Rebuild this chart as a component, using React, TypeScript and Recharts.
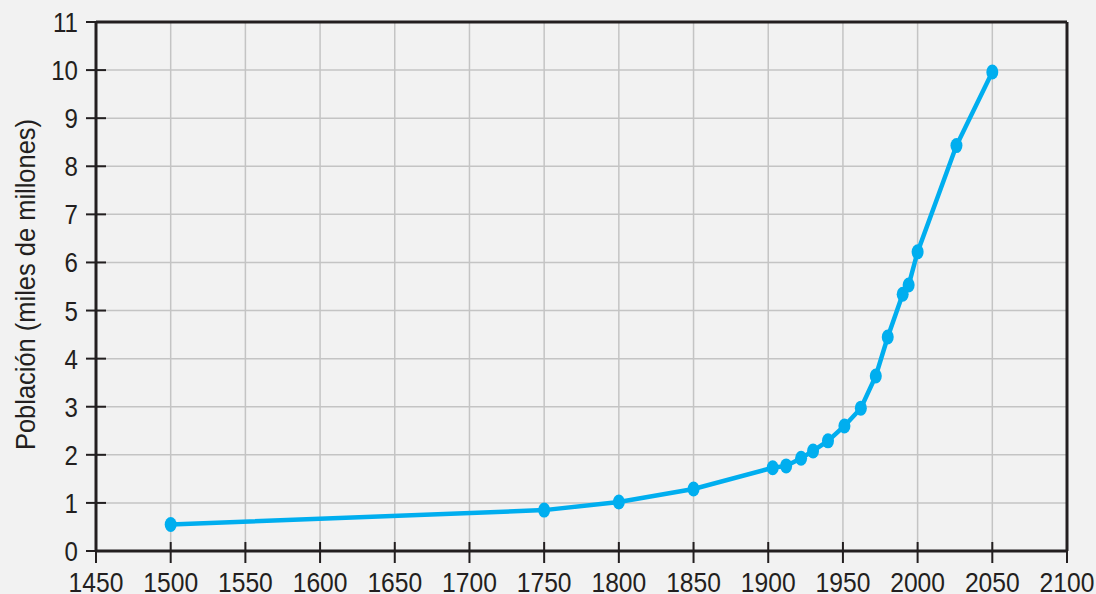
import React from 'react';
import { LineChart, Line, XAxis, YAxis, CartesianGrid, ReferenceLine } from 'recharts';

const years = [1500, 1750, 1800, 1850, 1903, 1912, 1922, 1930, 1940, 1951, 1962, 1972, 1980, 1990, 1994, 2000, 2026, 2050];
const population = [0.55, 0.85, 1.02, 1.29, 1.73, 1.77, 1.93, 2.08, 2.29, 2.6, 2.97, 3.64, 4.45, 5.34, 5.53, 6.22, 8.43, 9.96];
const xTicks = [1450, 1500, 1550, 1600, 1650, 1700, 1750, 1800, 1850, 1900, 1950, 2000, 2050, 2100];
const yTicks = [0, 1, 2, 3, 4, 5, 6, 7, 8, 9, 10, 11];
const yTitle = 'Población (miles de millones)';

const data = years.map((year, i) => ({ year, value: population[i] }));

const FONT = '"Liberation Sans", Arial, sans-serif';
const AXIS_X = 96;
const AXIS_Y = 551;
const BLUE = '#00aeef';
const INK = '#231f20';
// reference uses a condensed face, squeeze the regular one
const SQUEEZE = 0.86;

const YTick = (props: any) => {
  const { y, payload } = props;
  return (
    <g>
      <line x1={AXIS_X - 10} x2={AXIS_X + 10} y1={y} y2={y} stroke={INK} strokeWidth={2} />
      <text
        transform={`translate(${AXIS_X - 18}, ${y + 10}) scale(${SQUEEZE}, 1)`}
        textAnchor="end"
        fontSize={28}
        fontFamily={FONT}
        fill={INK}
      >
        {payload.value}
      </text>
    </g>
  );
};

const XTick = (props: any) => {
  const { x, payload } = props;
  return (
    <g>
      <line x1={x} x2={x} y1={AXIS_Y - 9} y2={AXIS_Y + 12} stroke={INK} strokeWidth={2} />
      <text
        transform={`translate(${x}, ${AXIS_Y + 41}) scale(${SQUEEZE + 0.02}, 1)`}
        textAnchor="middle"
        fontSize={28}
        fontFamily={FONT}
        fill={INK}
      >
        {payload.value}
      </text>
    </g>
  );
};

const YTitle = (props: any) => {
  const { viewBox } = props;
  const cy = viewBox.y + viewBox.height / 2 - 2;
  return (
    <text
      transform={`translate(25, ${cy}) rotate(-90) scale(0.91, 1)`}
      dy={10}
      textAnchor="middle"
      fontSize={28}
      fontFamily={FONT}
      fill={INK}
    >
      {yTitle}
    </text>
  );
};

const Dot = (props: any) => {
  const { cx, cy, index } = props;
  return <ellipse key={index} cx={cx} cy={cy} rx={6} ry={7.5} fill={BLUE} />;
};

export default function App() {
  return (
    <div style={{ position: 'absolute', left: 0, top: 0, width: 1096, height: 594, background: '#f2f2f2', overflow: 'hidden' }}>
      <LineChart width={1096} height={594} data={data} margin={{ top: 22, right: 29, bottom: 0, left: 0 }}>
        <CartesianGrid stroke="#c4c4c4" strokeWidth={1.5} verticalValues={xTicks} horizontalValues={yTicks} />
        <XAxis
          dataKey="year"
          type="number"
          domain={[1450, 2100]}
          ticks={xTicks}
          interval={0}
          height={43}
          axisLine={{ stroke: INK, strokeWidth: 3 }}
          tickLine={false}
          tick={<XTick />}
        />
        <YAxis
          type="number"
          domain={[0, 11]}
          ticks={yTicks}
          interval={0}
          width={96}
          axisLine={{ stroke: INK, strokeWidth: 3 }}
          tickLine={false}
          tick={<YTick />}
          label={<YTitle />}
        />
        <ReferenceLine y={11} stroke={INK} strokeWidth={3} ifOverflow="visible" />
        <ReferenceLine x={2100} stroke={INK} strokeWidth={3} ifOverflow="visible" />
        <Line
          type="linear"
          dataKey="value"
          stroke={BLUE}
          strokeWidth={4.5}
          dot={<Dot />}
          activeDot={false}
          isAnimationActive={false}
        />
      </LineChart>
    </div>
  );
}
